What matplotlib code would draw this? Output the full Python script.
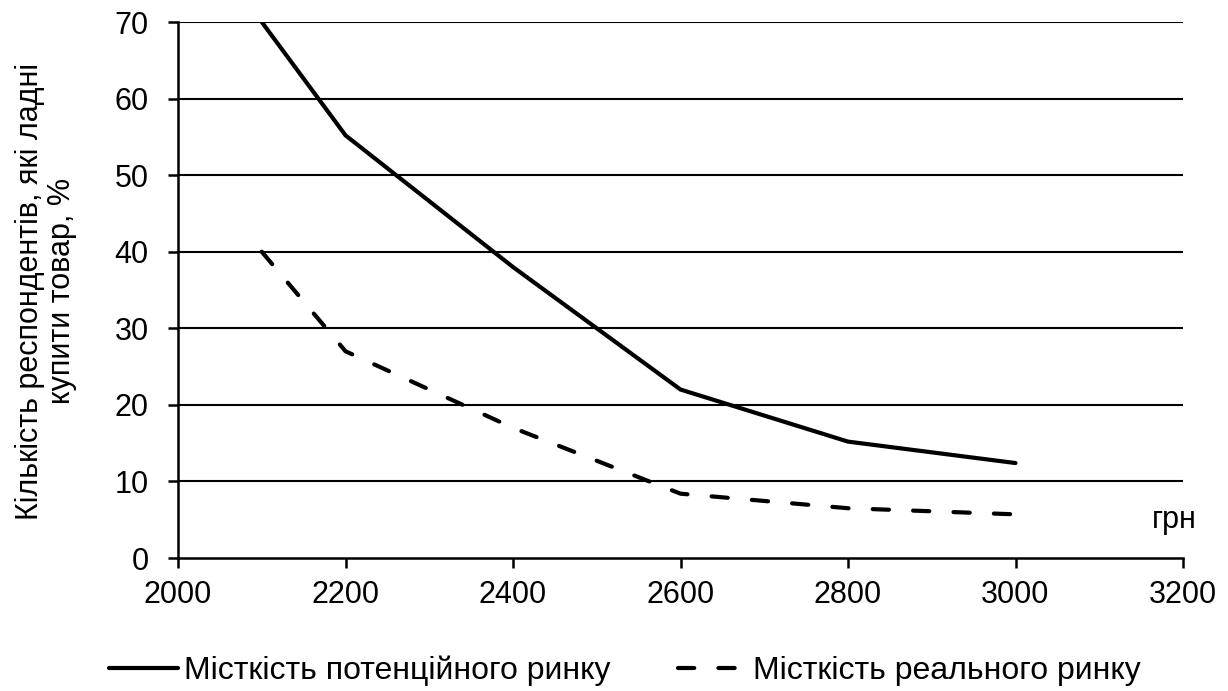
import matplotlib
matplotlib.use("Agg")
import matplotlib.pyplot as plt

# ─────────────────────────────────────────────
#  Дані
# ─────────────────────────────────────────────
price = [2100, 2200, 2400, 2600, 2800, 3000]
potential = [70, 55.2, 38, 22, 15.2, 12.4]
real = [40, 27, 17, 8.4, 6.5, 5.7]

x_ticks = [2000, 2200, 2400, 2600, 2800, 3000, 3200]
y_ticks = [0, 10, 20, 30, 40, 50, 60, 70]

label_potential = "Місткість потенційного ринку"
label_real = "Місткість реального ринку"
y_label = "Кількість респондентів, які ладні\nкупити товар, %"
unit_label = "грн"

plt.rcParams["font.family"] = ["Liberation Sans", "DejaVu Sans"]
FS_TICK = 22
FS_LEG = 23
FS_YLAB = 22

fig = plt.figure(figsize=(12.28, 6.91), dpi=100)
ax = fig.add_axes([178 / 1228, 1 - 558 / 691, (1183 - 178) / 1228, (558 - 22) / 691])

for y in y_ticks[1:]:
    ax.axhline(y, color="black", lw=1.5, zorder=1)

ax.plot(price, potential, color="black", lw=3, solid_capstyle="round",
        solid_joinstyle="miter", label=label_potential, zorder=3)
ax.plot(price, real, color="black", lw=3, dashes=(3.9, 5.8),
        dash_capstyle="round", label=label_real, zorder=3)

ax.set_xlim(2000, 3200)
ax.set_ylim(0, 70)
ax.set_xticks(x_ticks)
ax.set_yticks(y_ticks)

for side in ("top", "right"):
    ax.spines[side].set_visible(False)
for side in ("left", "bottom"):
    ax.spines[side].set_linewidth(1.8)
    ax.spines[side].set_color("black")
    ax.spines[side].set_zorder(4)

ax.tick_params(axis="both", direction="out", length=7, width=1.8,
               labelsize=FS_TICK, colors="black")
ax.tick_params(axis="x", pad=9)
ax.tick_params(axis="y", pad=14)

ax.text(3190, 5, unit_label, fontsize=FS_TICK, ha="center", va="center")

fig.text(46 / 1228, 1 - 291 / 691, y_label, rotation=90, fontsize=FS_YLAB,
         ha="center", va="center", multialignment="center", linespacing=1.05)

fig.legend(loc="center", bbox_to_anchor=(625 / 1228, 1 - 671 / 691),
           ncol=2, frameon=False, fontsize=FS_LEG, handlelength=2.15,
           handletextpad=0.2, columnspacing=2.1, borderpad=0.1)

fig.savefig("out.png", dpi=100)
